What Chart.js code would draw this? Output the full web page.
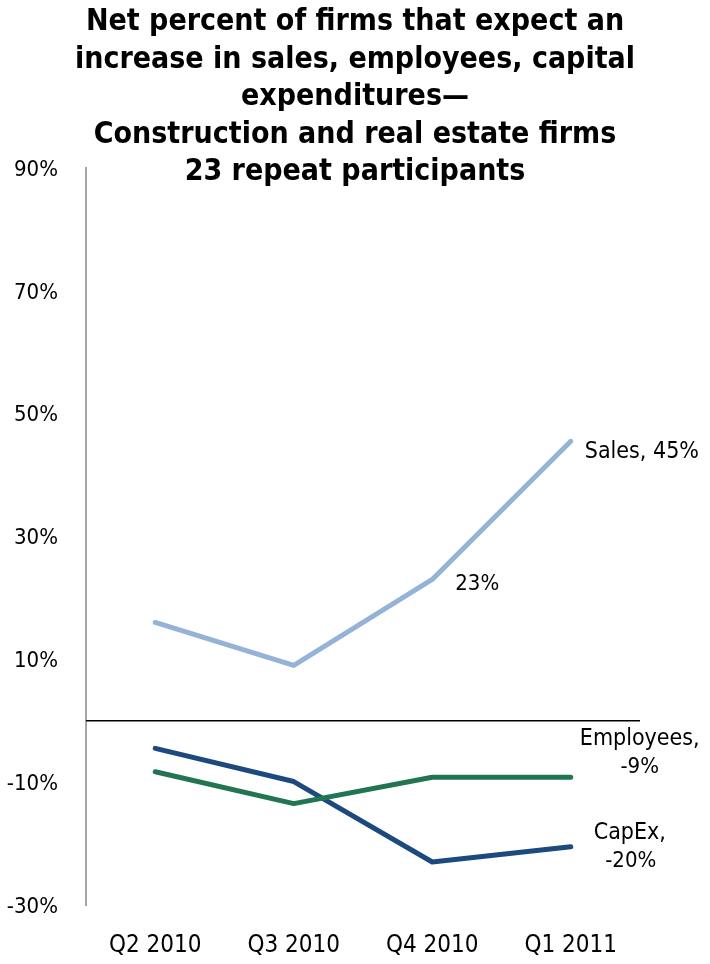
<!DOCTYPE html>
<html>
<head>
<meta charset="utf-8">
<script src="https://cdn.jsdelivr.net/npm/chart.js@4/dist/chart.umd.min.js"></script>
<style>
  html, body { margin: 0; padding: 0; background: #fff; }
  #wrap { position: relative; width: 710px; height: 964px; }
  #title {
    position: absolute; left: 0; top: 1px; width: 710px; text-align: center;
    font-family: "DejaVu Sans Condensed", "DejaVu Sans", sans-serif; font-weight: bold;
    font-size: 30px; line-height: 37.5px; color: #000; pointer-events: none;
  }
</style>
</head>
<body>
<div id="wrap">
  <canvas id="mycanvas" width="710" height="964"></canvas>
  <div id="title">Net percent of firms that expect an<br>increase in sales, employees, capital<br>expenditures—<br>Construction and real estate firms<br>23 repeat participants</div>
</div>
<script>
var quarters = ["Q2 2010", "Q3 2010", "Q4 2010", "Q1 2011"];
var sales = [16, 9, 23, 45.5];
var employees = [-8.3, -13.5, -9.2, -9.2];
var capex = [-4.5, -9.9, -23, -20.5];
var yTicks = [-30, -10, 10, 30, 50, 70, 90];

// labels beside points: [dataset, point index, lines, dx, dy, align, size]
var notes = [
  [0, 3, ["Sales, 45%"], 14, 11, "left", 23],
  [0, 2, ["23%"], 23, 5, "left", 22],
  [1, 3, ["Employees,"], 69, -38, "center", 23],
  [1, 3, ["-9%"], 69, -10, "center", 22],
  [2, 3, ["CapEx,"], 59, -14, "center", 23],
  [2, 3, ["-20%"], 60, 15, "center", 22]
];

var fontFam = '"DejaVu Sans Condensed", "DejaVu Sans", sans-serif';

var extras = {
  id: "extras",
  beforeDatasetsDraw: function(chart) {
    var ctx = chart.ctx, a = chart.chartArea;
    var y0 = chart.scales.y.getPixelForValue(0);
    ctx.save();
    ctx.strokeStyle = "#000";
    ctx.lineWidth = 1.5;
    ctx.beginPath();
    ctx.moveTo(a.left, y0);
    ctx.lineTo(a.right, y0);
    ctx.stroke();
    ctx.restore();
  },
  afterDraw: function(chart) {
    var ctx = chart.ctx;
    ctx.save();
    ctx.fillStyle = "#000";
    ctx.textBaseline = "middle";
    notes.forEach(function(n) {
      var pt = chart.getDatasetMeta(n[0]).data[n[1]];
      ctx.textAlign = n[5];
      ctx.font = n[6] + "px " + fontFam;
      n[2].forEach(function(line, i) {
        ctx.fillText(line, pt.x + n[3], pt.y + n[4] + i * 28);
      });
    });
    ctx.restore();
  }
};

var chartdata = {
  labels: quarters,
  datasets: [
    { label: "Sales", data: sales, borderColor: "#95b3d7" },
    { label: "Employees", data: employees, borderColor: "#217552" },
    { label: "CapEx", data: capex, borderColor: "#1d4a7e" }
  ]
};

var ctx = document.getElementById("mycanvas");
var lineGraph = new Chart(ctx, {
  type: "line",
  data: chartdata,
  plugins: [extras],
  options: {
    responsive: false,
    animation: false,
    layout: { padding: { top: 168, right: 70, bottom: 0, left: 0 } },
    elements: {
      line: { borderWidth: 5, tension: 0, borderCapStyle: "round", borderJoinStyle: "round" },
      point: { radius: 0, hoverRadius: 0 }
    },
    plugins: {
      legend: { display: false },
      tooltip: { enabled: false }
    },
    scales: {
      x: {
        offset: true,
        grid: { display: false, drawTicks: false },
        border: { display: false },
        ticks: { color: "#000", font: { family: fontFam, size: 24 }, padding: 26 },
        afterFit: function(s) { s.height = 59; }
      },
      y: {
        min: -30, max: 90,
        afterBuildTicks: function(s) { s.ticks = yTicks.map(function(v) { return { value: v }; }); },
        grid: { display: false, drawTicks: false },
        border: { display: true, color: "#a6a6a6", width: 2 },
        ticks: {
          color: "#000", font: { family: fontFam, size: 22 }, padding: 28, labelOffset: 2,
          callback: function(v) { return v + "%"; }
        },
        afterFit: function(s) { s.width = 86; }
      }
    }
  }
});
</script>
</body>
</html>
